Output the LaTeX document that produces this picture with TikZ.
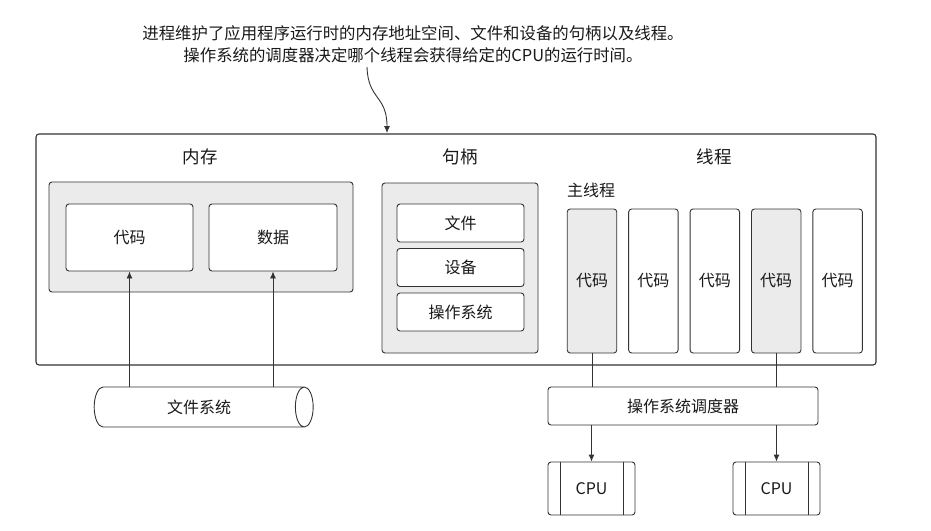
\documentclass[tikz,border=0pt]{standalone}
\usepackage{fontspec}
\setmainfont{Noto Sans CJK SC}
\usetikzlibrary{shapes.geometric, arrows.meta}

\begin{document}
\begin{tikzpicture}[x=1pt, y=-1pt,
    line/.style={draw=black!80, line width=0.9pt},
    box/.style={line, fill=white, rounded corners=3pt, inner sep=0pt, text=black!90, font=\fontsize{16}{19}\selectfont},
    grouped/.style={box, fill=black!8},
    heading/.style={text=black!90, font=\fontsize{17.5}{20}\selectfont},
    cpubox/.style={box, minimum width=87pt, minimum height=53pt,
        path picture={
            \draw[line] ([xshift=12pt]path picture bounding box.north west) -- ([xshift=12pt]path picture bounding box.south west);
            \draw[line] ([xshift=-12pt]path picture bounding box.north east) -- ([xshift=-12pt]path picture bounding box.south east);
        }},
    arrow/.style={line, -{Latex[length=7pt, width=6pt]}}]
    \useasboundingbox (0,0) rectangle (931,530);

    % Callout on top
    \node[align=center, text=black!90, font=\fontsize{16.4}{22}\selectfont] (note) at (413,44)
        {进程维护了应用程序运行时的内存地址空间、文件和设备的句柄以及线程。\\操作系统的调度器决定哪个线程会获得给定的CPU的运行时间。};
    \coordinate (notetail) at (367,67);
    \coordinate (notehead) at (387,133);
    \draw[arrow] (notetail) .. controls (368,100) and (387,95) .. (notehead);

    % Draw the process box
    \node[box, line width=1.1pt, minimum width=840pt, minimum height=231pt] (process) at (456,249.5) {};

    % Memory
    \node[heading] (memlabel) at (200,157) {内存};
    \node[grouped, minimum width=304pt, minimum height=110pt] (memory) at (201,237) {};
    \node[box, minimum width=127pt, minimum height=67pt] (code) at (129.5,237.5) {代码};
    \node[box, minimum width=128pt, minimum height=67pt] (data) at (273,237.5) {数据};

    % Handles
    \node[heading] (handlelabel) at (460,157) {句柄};
    \node[grouped, minimum width=156pt, minimum height=170pt] (handles) at (460,268) {};
    \node[box, minimum width=127pt, minimum height=38pt] (file) at (460.5,223) {文件};
    \node[box, minimum width=127pt, minimum height=38pt] (device) at (460.5,267.5) {设备};
    \node[box, minimum width=127pt, minimum height=38pt] (os) at (460.5,312) {操作系统};

    % Threads
    \node[heading] (threadlabel) at (714,157) {线程};
    \node[text=black!90, font=\fontsize{16}{19}\selectfont] (mainlabel) at (591,190) {主线程};
    \foreach \i/\shade in {1/black!8,2/white,3/white,4/black!8,5/white} {
        \node[box, fill=\shade, minimum width=49.5pt, minimum height=144pt] (thread\i) at ({592+(\i-1)*61.4},281) {代码};
    }

    % File system
    \node[cylinder, line, fill=white, minimum height=219pt, minimum width=40pt, aspect=1.2, inner sep=0pt,
        text=black!90, font=\fontsize{16}{19}\selectfont] (fs) at (199,407) {文件系统};
    \draw[arrow] (code.south |- fs.north) -- (code.south);
    \draw[arrow] (data.south |- fs.north) -- (data.south);

    % Scheduler and CPUs
    \node[box, minimum width=270pt, minimum height=38pt] (sched) at (683,406) {操作系统调度器};
    \node[cpubox] (cpu1) at (591.5,488.5) {CPU};
    \node[cpubox] (cpu2) at (776.5,488.5) {CPU};
    \draw[line] (thread1.south) -- (thread1.south |- sched.north);
    \draw[line] (thread4.south) -- (thread4.south |- sched.north);
    \draw[arrow] (cpu1.north |- sched.south) -- (cpu1.north);
    \draw[arrow] (cpu2.north |- sched.south) -- (cpu2.north);
\end{tikzpicture}
\end{document}
